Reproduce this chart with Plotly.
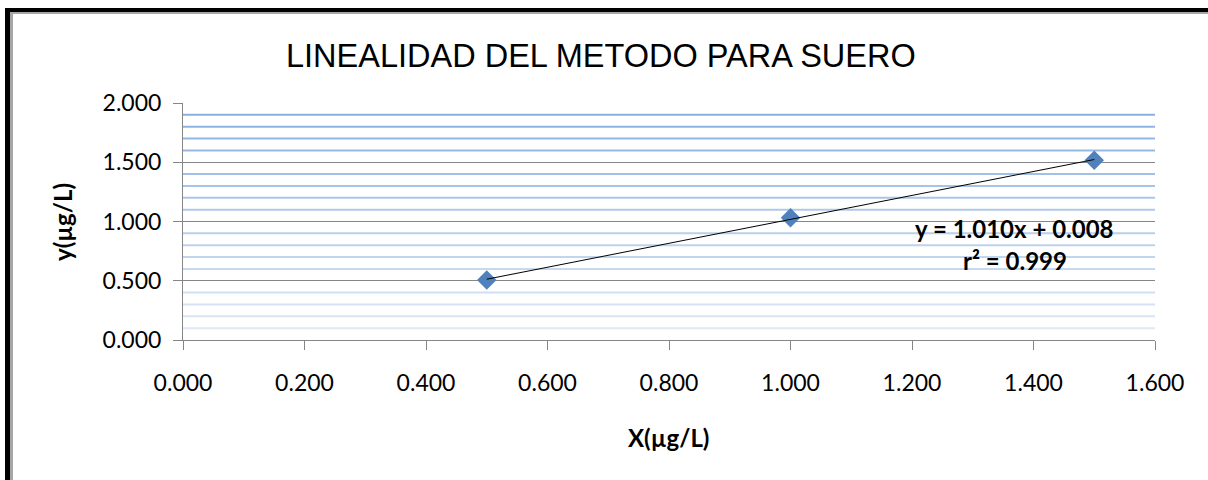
import numpy as np
import plotly.graph_objects as go

# ---- data ----
x_vals = [0.5, 1.0, 1.5]
y_vals = [0.506, 1.032, 1.516]
x_ticks = [0.0, 0.2, 0.4, 0.6, 0.8, 1.0, 1.2, 1.4, 1.6]
y_ticks = [0.0, 0.5, 1.0, 1.5, 2.0]
title_text = "LINEALIDAD DEL METODO PARA SUERO"
x_title = "X(µg/L)"
y_title = "y(µg/L)"

slope, intercept = np.polyfit(x_vals, y_vals, 1)
r2 = np.corrcoef(x_vals, y_vals)[0, 1] ** 2
trend_x = [min(x_vals), max(x_vals)]
trend_y = [slope * v + intercept for v in trend_x]

# ---- layout geometry ----
FW, FH = 1208, 480
L, R, T, B = 183, 53, 103, 140
PW, PH = FW - L - R, FH - T - B


def px(xp):
    return (xp - L) / PW


def py(yp):
    return (FH - B - yp) / PH


fig = go.Figure()

fig.add_trace(go.Scatter(
    x=x_vals, y=y_vals, mode="markers",
    marker=dict(symbol="diamond", size=15, color="#4F81BD"),
    showlegend=False, hoverinfo="x+y"))

fig.add_trace(go.Scatter(
    x=trend_x, y=trend_y, mode="lines",
    line=dict(color="#000000", width=1),
    showlegend=False, hoverinfo="skip"))

shapes = []
# minor banded gridlines (faded blue, darker at top)
minor = [round(v * 0.1, 1) for v in range(1, 20) if v % 5 != 0]
c_top = np.array([0x8A, 0xB0, 0xE1])
c_bot = np.array([0xDF, 0xE8, 0xF5])
for v in minor:
    t = (v - 0.1) / (1.9 - 0.1)
    c = (c_bot + (c_top - c_bot) * t).round().astype(int)
    shapes.append(dict(type="line", xref="x", yref="y", x0=0, x1=1.6, y0=v, y1=v,
                       line=dict(color="rgb(%d,%d,%d)" % tuple(c), width=2), layer="below"))

# outer frame (black + gray inner edge)
shapes += [
    dict(type="rect", xref="paper", yref="paper", x0=px(10), x1=px(13), y0=py(FH), y1=py(12),
         fillcolor="#A6A6A6", line=dict(width=0), layer="above"),
    dict(type="rect", xref="paper", yref="paper", x0=px(10), x1=px(FW), y0=py(14), y1=py(12),
         fillcolor="#A6A6A6", line=dict(width=0), layer="above"),
    dict(type="rect", xref="paper", yref="paper", x0=px(5), x1=px(10), y0=py(FH), y1=py(8),
         fillcolor="#000000", line=dict(width=0), layer="above"),
    dict(type="rect", xref="paper", yref="paper", x0=px(5), x1=px(FW), y0=py(12), y1=py(8),
         fillcolor="#000000", line=dict(width=0), layer="above"),
]

annotations = [
    dict(xref="x", yref="y", x=1.369, y=0.945,
         text="y = %.3fx + %.3f" % (slope, intercept), showarrow=False,
         font=dict(family="Lato", size=24, color="#000000", weight="bold"),
         xanchor="center", yanchor="middle"),
    dict(xref="x", yref="y", x=1.369, y=0.675,
         text="r² = %.3f" % r2, showarrow=False,
         font=dict(family="Lato", size=24, color="#000000", weight="bold"),
         xanchor="center", yanchor="middle"),
    dict(xref="paper", yref="paper", x=px(601), y=py(56), text=title_text, showarrow=False,
         font=dict(family="Liberation Sans, Arial", size=32.5, color="#000000"),
         xanchor="center", yanchor="middle"),
    dict(xref="paper", yref="paper", x=px(668), y=py(437), text=x_title, showarrow=False,
         font=dict(family="Lato", size=24, color="#000000", weight="bold"),
         xanchor="center", yanchor="middle"),
    dict(xref="paper", yref="paper", x=px(62), y=py(222), text=y_title, showarrow=False,
         textangle=-90,
         font=dict(family="Lato", size=24, color="#000000", weight="bold"),
         xanchor="center", yanchor="middle"),
]

fig.update_layout(
    width=FW, height=FH,
    margin=dict(l=L, r=R, t=T, b=B, pad=0),
    paper_bgcolor="#FFFFFF", plot_bgcolor="#FFFFFF",
    shapes=shapes, annotations=annotations,
    font=dict(family="Lato", color="#000000"),
)

fig.update_xaxes(
    range=[0, 1.6], tickmode="array", tickvals=x_ticks, tickformat=".3f",
    showgrid=False, zeroline=False,
    showline=True, linecolor="#868686", linewidth=1,
    ticks="outside", ticklen=9, tickcolor="#868686", tickwidth=1,
    tickfont=dict(family="Lato", size=23, color="#000000"),
    ticklabelstandoff=13,
)
fig.update_yaxes(
    range=[0, 2.0], tickmode="array", tickvals=y_ticks, tickformat=".3f",
    showgrid=True, gridcolor="#868686", gridwidth=1, zeroline=False,
    showline=True, linecolor="#868686", linewidth=1,
    ticks="outside", ticklen=9, tickcolor="#868686", tickwidth=1,
    tickfont=dict(family="Lato", size=23, color="#000000"),
    ticklabelstandoff=7,
)

fig.write_html("out.html", config={"displayModeBar": False},
               post_script="document.body.style.margin='0';")
